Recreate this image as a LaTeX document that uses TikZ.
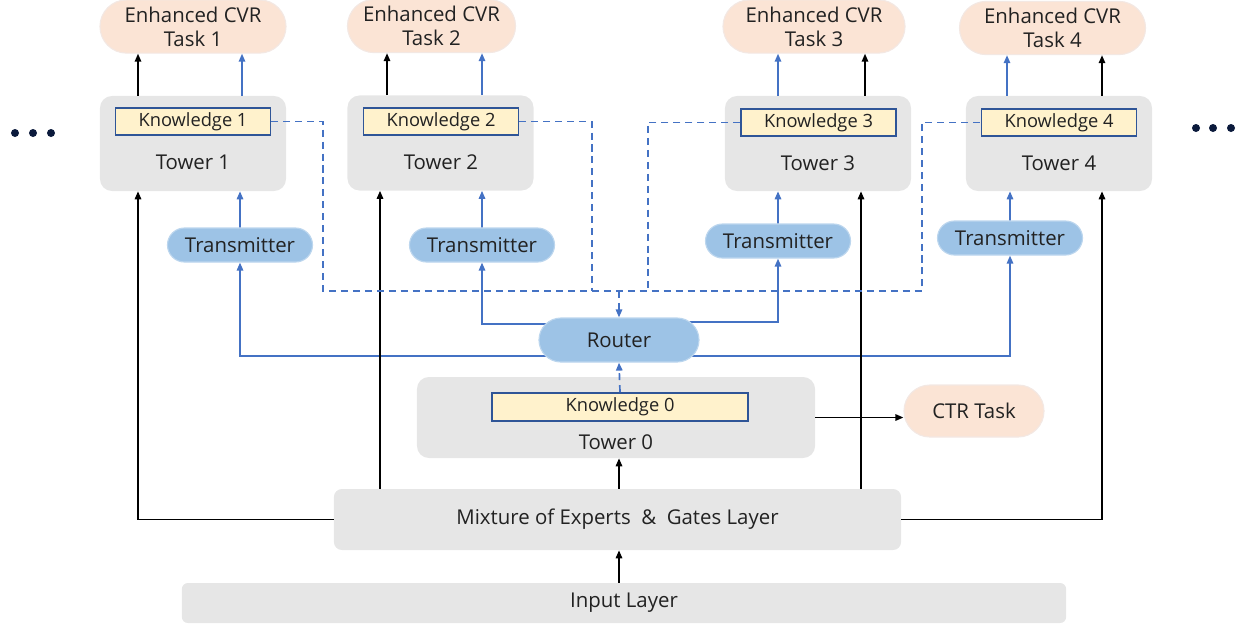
\documentclass[tikz,border=0pt]{standalone}
\usepackage{fontspec}
\setmainfont{Open Sans}
\usetikzlibrary{arrows.meta,shapes.misc,backgrounds}
\definecolor{taskfill}{HTML}{FBE4D5}
\definecolor{taskline}{HTML}{F3E8E3}
\definecolor{towerfill}{HTML}{E6E6E6}
\definecolor{transfill}{HTML}{9DC3E6}
\definecolor{transline}{HTML}{BCD6EE}
\definecolor{knowfill}{HTML}{FFF2CC}
\definecolor{knowline}{HTML}{2F5597}
\definecolor{linkblue}{HTML}{4472C4}
\definecolor{dotcol}{HTML}{0B1A3C}
\definecolor{txt}{HTML}{222222}
\begin{document}
\begin{tikzpicture}[x=0.025cm,y=-0.025cm,
	>={Triangle[length=2mm,width=1.6mm]},
	every node/.style={text=txt,inner sep=0pt},
	taskbox/.style={rounded rectangle,fill=taskfill,draw=taskline,line width=0.8pt,minimum width=4.65cm,minimum height=1.33cm,align=center,font=\fontsize{14.5}{17}\selectfont},
	towerbox/.style={rectangle,rounded corners=0.3cm,fill=towerfill,minimum width=4.65cm,minimum height=2.375cm},
	knowbox/.style={rectangle,fill=knowfill,draw=knowline,line width=1.2pt,minimum width=3.875cm,minimum height=0.675cm,font=\fontsize{13}{15}\selectfont},
	transbox/.style={rounded rectangle,fill=transfill,draw=transline,line width=0.8pt,minimum width=3.625cm,minimum height=0.85cm,font=\fontsize{14.5}{17}\selectfont},
	lbl/.style={font=\fontsize{14.5}{17}\selectfont},
	blk/.style={->,black,line width=1.2pt},
	blu/.style={->,linkblue,line width=1.2pt},
	dsh/.style={linkblue,line width=1.2pt,dash pattern=on 5pt off 3.5pt}
	]
		\useasboundingbox (0,0) rectangle (1248,627);
		
		\node[taskbox] (tk1) at (193,26.5) {Enhanced CVR\\Task 1};
		\node[taskbox,minimum width=4.2cm] (tk2) at (431.5,26) {Enhanced CVR\\Task 2};
		\node[taskbox,minimum width=4.55cm] (tk3) at (814,26.5) {Enhanced CVR\\Task 3};
		\node[taskbox] (tk4) at (1052.5,28) {Enhanced CVR\\Task 4};
		
		\node[towerbox] (tw1) at (193,143.5) {};
		\node[towerbox] (tw2) at (440.5,143) {};
		\node[towerbox] (tw3) at (818,143.5) {};
		\node[towerbox] (tw4) at (1059,143.5) {};
		
		\node[knowbox] (k1) at (193,121.5) {Knowledge 1};
		\node[knowbox] (k2) at (441,121.5) {Knowledge 2};
		\node[knowbox] (k3) at (818.5,122.5) {Knowledge 3};
		\node[knowbox] (k4) at (1059,122.5) {Knowledge 4};
		
		\node[lbl] (l1) at (193,162) {Tower 1};
		\node[lbl] (l2) at (441,162) {Tower 2};
		\node[lbl] (l3) at (818,163) {Tower 3};
		\node[lbl] (l4) at (1059,163) {Tower 4};
		
		\node[transbox] (t1) at (240,245) {Transmitter};
		\node[transbox] (t2) at (482,245) {Transmitter};
		\node[transbox] (t3) at (778,241) {Transmitter};
		\node[transbox] (t4) at (1010,238) {Transmitter};
		
		\node[transbox,minimum width=4cm,minimum height=1.1cm] (rt) at (619,340) {Router};
		
		\node[towerbox,minimum width=9.95cm,minimum height=2.025cm] (tw0) at (616,417.5) {};
		\node[knowbox,minimum width=6.4cm,minimum height=0.7cm] (k0) at (620,407) {Knowledge 0};
		\node[lbl] (l0) at (616,442) {Tower 0};
		\node[taskbox,minimum width=3.5cm,minimum height=1.3cm] (ctr) at (974,411) {CTR Task};
		
		\node[towerbox,lbl,minimum width=14.175cm,minimum height=1.525cm,rounded corners=0.2cm] (moe) at (617.5,519.5) {Mixture of Experts~~\&~~Gates Layer};
		\node[towerbox,lbl,minimum width=22.1cm,minimum height=1cm,rounded corners=0.15cm] (inp) at (624,603) {Input Layer};
		
		\coordinate (a1) at (138,0);
		\coordinate (b1) at (242,0);
		\coordinate (a2) at (387,0);
		\coordinate (b2) at (482,0);
		\coordinate (a3) at (865,0);
		\coordinate (b3) at (778,0);
		\coordinate (a4) at (1102,0);
		\coordinate (b4) at (1007,0);
		\coordinate (c0) at (619,0);
		\coordinate (c1) at (138,0);
		\coordinate (c2) at (380,0);
		\coordinate (c3) at (861,0);
		\coordinate (c4) at (1102,0);
		
		\draw[blk] (tw1.north -| a1) -- (tk1.south -| a1);
		\draw[blu] (tw1.north -| b1) -- (tk1.south -| b1);
		\draw[blk] (tw2.north -| a2) -- (tk2.south -| a2);
		\draw[blu] (tw2.north -| b2) -- (tk2.south -| b2);
		\draw[blu] (tw3.north -| b3) -- (tk3.south -| b3);
		\draw[blk] (tw3.north -| a3) -- (tk3.south -| a3);
		\draw[blu] (tw4.north -| b4) -- (tk4.south -| b4);
		\draw[blk] (tw4.north -| a4) -- (tk4.south -| a4);
		
		\draw[blu] (t1) -- (tw1.south -| t1);
		\draw[blu] (t2) -- (tw2.south -| t2);
		\draw[blu] (t3) -- (tw3.south -| t3);
		\draw[blu] (t4) -- (tw4.south -| t4);
		
		\begin{pgfonlayer}{background}
			\draw[blu] ([yshift=-0.4cm]rt.center) -| (t1);
			\draw[blu] ([yshift=0.4cm]rt.center) -| (t2);
			\draw[blu] ([yshift=0.45cm]rt.center) -| (t3);
			\draw[blu] ([yshift=-0.4cm]rt.center) -| (t4);
		\end{pgfonlayer}
		
		\draw[blk] (moe.west) -| (tw1.south -| c1);
		\draw[blk] (moe.north -| c2) -- (tw2.south -| c2);
		\draw[blk] (moe.north -| c3) -- (tw3.south -| c3);
		\draw[blk] (moe.east) -| (tw4.south -| c4);
		\draw[blk] (moe.north -| c0) -- (tw0.south -| c0);
		\draw[blk] (inp.north -| c0) -- (moe.south -| c0);
		\draw[blk] (tw0.east) -- (tw0.east -| ctr.west);
		
		\coordinate (d1) at (323,291);
		\coordinate (d2) at (592,291);
		\coordinate (d3) at (648,291);
		\coordinate (d4) at (922,291);
		\draw[dsh] (k1.east) -| (d1) -- (d4) |- (k4.west);
		\draw[dsh] (k2.east) -| (d2);
		\draw[dsh] (k3.west) -| (d3);
		\draw[dsh,->] (d1 -| rt.north) -- (rt.north);
		\draw[dsh,->] (k0.north) -- (rt.south);
		
		\foreach \x in {15,33,51} \fill[dotcol] (\x,133) circle (0.1cm);
		\foreach \x in {1196,1213,1231} \fill[dotcol] (\x,128) circle (0.1cm);
		
		\end{tikzpicture}
\end{document}
